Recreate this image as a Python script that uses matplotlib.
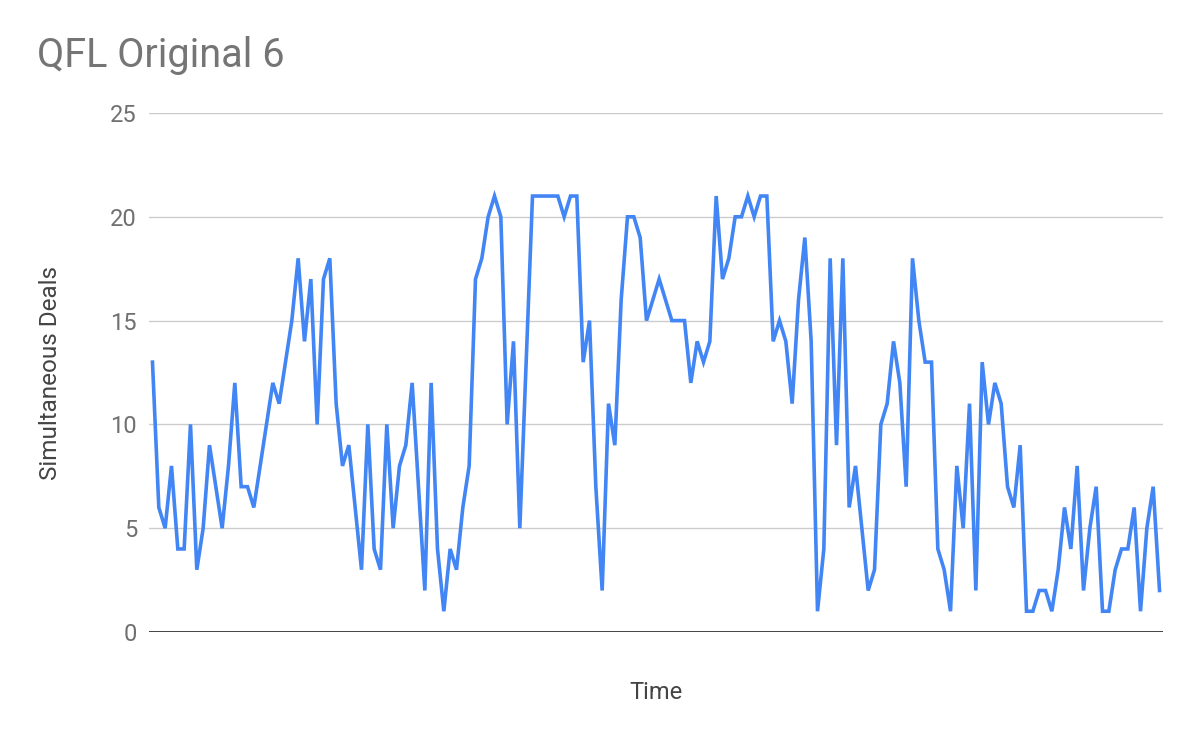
import matplotlib
matplotlib.use("Agg")
import matplotlib.pyplot as plt

title = "QFL Original 6"
x_label = "Time"
y_label = "Simultaneous Deals"
y_ticks = [0, 5, 10, 15, 20, 25]

deals = [
    13, 6, 5, 8, 4, 4, 10, 3, 5, 9,
    7, 5, 8, 12, 7, 7, 6, 8, 10, 12,
    11, 13, 15, 18, 14, 17, 10, 17, 18, 11,
    8, 9, 6, 3, 10, 4, 3, 10, 5, 8,
    9, 12, 7, 2, 12, 4, 1, 4, 3, 6,
    8, 17, 18, 20, 21, 20, 10, 14, 5, 13,
    21, 21, 21, 21, 21, 20, 21, 21, 13, 15,
    7, 2, 11, 9, 16, 20, 20, 19, 15, 16,
    17, 16, 15, 15, 15, 12, 14, 13, 14, 21,
    17, 18, 20, 20, 21, 20, 21, 21, 14, 15,
    14, 11, 16, 19, 14, 1, 4, 18, 9, 18,
    6, 8, 5, 2, 3, 10, 11, 14, 12, 7,
    18, 15, 13, 13, 4, 3, 1, 8, 5, 11,
    2, 13, 10, 12, 11, 7, 6, 9, 1, 1,
    2, 2, 1, 3, 6, 4, 8, 2, 5, 7,
    1, 1, 3, 4, 4, 6, 1, 5, 7, 2,
]

plt.rcParams['font.family'] = ['Roboto', 'DejaVu Sans']

W, H = 1200, 742
fig = plt.figure(figsize=(W / 100, H / 100), dpi=100)
left, right = 149 / W, 1163 / W
bottom, top = 1 - 632 / H, 1 - 113 / H
ax = fig.add_axes([left, bottom, right - left, top - bottom])

x = list(range(len(deals)))
ax.plot(x, deals, color="#4285F4", linewidth=2.6, solid_joinstyle="miter", zorder=3)

ax.set_ylim(0, 25)
ax.set_xlim(-0.55, len(deals) - 1 + 0.55)
ax.set_yticks(y_ticks)
ax.set_yticklabels([str(t) for t in y_ticks])
ax.set_xticks([])
ax.grid(axis="y", color="#cccccc", linewidth=1.0, zorder=0)
ax.axhline(0, color="#333333", linewidth=2.0, zorder=4)
for s in ax.spines.values():
    s.set_visible(False)
ax.tick_params(axis="y", length=0, pad=8.6, labelsize=17, labelcolor="#707070")
ax.set_clip_on(False)

fig.text(37 / W, 1 - 67 / H, title, fontsize=28.5, color="#757575", va="baseline", ha="left")
fig.text(656 / W, 1 - 699 / H, x_label, fontsize=17, color="#444444", va="baseline", ha="center")
fig.text(57 / W, 1 - 373.5 / H, y_label, fontsize=17.5, color="#444444", va="baseline",
         ha="center", rotation=90, rotation_mode="anchor")

fig.savefig("out.png", dpi=100)
